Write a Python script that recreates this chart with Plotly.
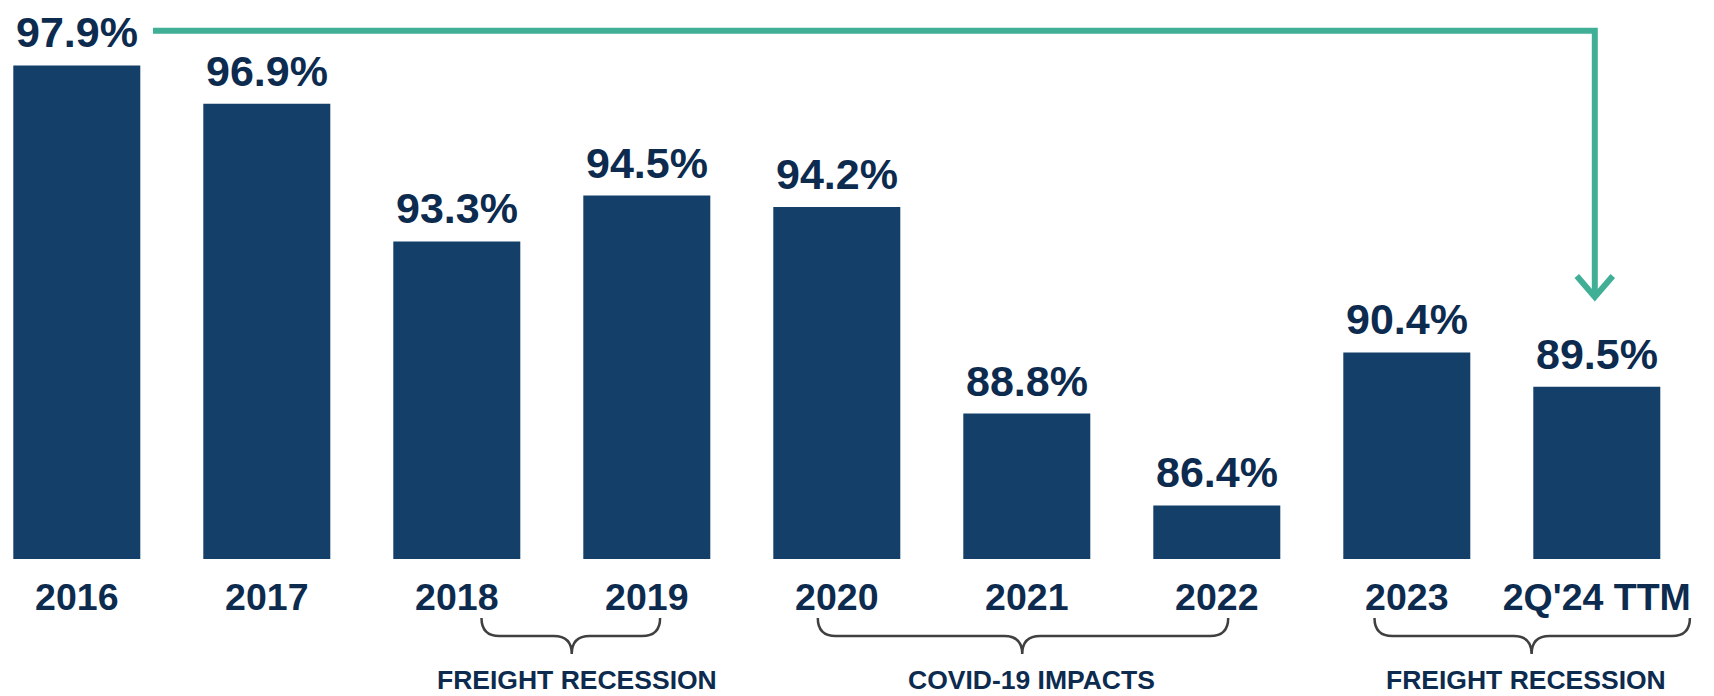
import plotly.graph_objects as go

# operating ratio by year
categories = ["2016", "2017", "2018", "2019", "2020", "2021", "2022", "2023", "2Q'24 TTM"]
ratios = [97.9, 96.9, 93.3, 94.5, 94.2, 88.8, 86.4, 90.4, 89.5]

# bracketed periods under the axis
group_labels = ["FREIGHT RECESSION", "COVID-19 IMPACTS", "FREIGHT RECESSION"]
group_left = [2.13, 3.90, 6.83]     # in bar-index units
group_right = [3.07, 6.06, 8.49]
group_tip = [2.605, 4.976, 7.657]
group_text_x = [2.633, 5.026, 7.629]

W, H = 1714, 696
PLOT_H = 559          # plot area height (bars stand on its bottom edge)
BASE = 85.0
PX_PER_PT = 38.26
X0, STEP = 76.8, 190.0

NAVY_BAR = "#133f69"
NAVY_TXT = "#0c2b4f"
GREEN = "#41ae96"
GREY = "#404040"
FONT = "Liberation Sans, Arial, sans-serif"


def px(x):
    return x / W


def py(y):
    return 1 - y / PLOT_H


def idx_px(i):
    return X0 + STEP * i


xs = list(range(len(categories)))

fig = go.Figure()
fig.add_trace(go.Bar(
    x=xs,
    y=ratios,
    marker=dict(color=NAVY_BAR, line=dict(width=0)),
    width=127 / STEP,
    hoverinfo="skip",
))

# value labels above bars
for i, v in zip(xs, ratios):
    fig.add_annotation(
        x=i, y=v, text="<b>%.1f%%</b>" % v, showarrow=False,
        xanchor="center", yanchor="bottom", yshift=7,
        font=dict(family=FONT, size=43, color=NAVY_TXT),
    )

# curly brackets + period labels
for lab, l, r, t, tx in zip(group_labels, group_left, group_right, group_tip, group_text_x):
    L, R, T = idx_px(l), idx_px(r), idx_px(t)
    top, mid, tipy, rad = 618, 636, 654, 18
    path = (
        f"M {px(L)},{py(top)} Q {px(L)},{py(mid)} {px(L + rad)},{py(mid)} "
        f"L {px(T - rad)},{py(mid)} Q {px(T)},{py(mid)} {px(T)},{py(tipy)} "
        f"Q {px(T)},{py(mid)} {px(T + rad)},{py(mid)} "
        f"L {px(R - rad)},{py(mid)} Q {px(R)},{py(mid)} {px(R)},{py(top)}"
    )
    fig.add_shape(type="path", path=path, xref="paper", yref="paper",
                  line=dict(color=GREY, width=2.5))
    fig.add_annotation(
        x=px(idx_px(tx)), y=py(680), xref="paper", yref="paper",
        text="<b>%s</b>" % lab, showarrow=False,
        xanchor="center", yanchor="middle",
        font=dict(family=FONT, size=26.5, color=NAVY_TXT),
    )

# green connector arrow from 2016 to latest
arrow_y = 30.7
end_x = idx_px(len(categories) - 1) - 2
fig.add_shape(type="path", xref="paper", yref="paper",
              path=f"M {px(153)},{py(arrow_y)} L {px(end_x)},{py(arrow_y)} L {px(end_x)},{py(296)}",
              line=dict(color=GREEN, width=6))
fig.add_shape(type="path", xref="paper", yref="paper",
              path=f"M {px(end_x - 18)},{py(276)} L {px(end_x)},{py(297)} L {px(end_x + 18)},{py(276)}",
              line=dict(color=GREEN, width=6))

fig.update_layout(
    width=W, height=H,
    margin=dict(l=0, r=0, t=0, b=H - PLOT_H),
    plot_bgcolor="white", paper_bgcolor="white",
    showlegend=False,
    xaxis=dict(
        range=[-X0 / STEP, (W - X0) / STEP],
        tickmode="array", tickvals=xs,
        ticktext=["<b>%s</b>" % c for c in categories],
        showgrid=False, zeroline=False, showline=False, ticks="",
        tickfont=dict(family=FONT, size=37.5, color=NAVY_TXT),
        ticklabelstandoff=12,
        fixedrange=True,
    ),
    yaxis=dict(
        range=[BASE, BASE + PLOT_H / PX_PER_PT],
        visible=False, fixedrange=True,
    ),
)

fig.write_html("out.html", config={"displayModeBar": False},
               post_script="document.body.style.margin='0';")
